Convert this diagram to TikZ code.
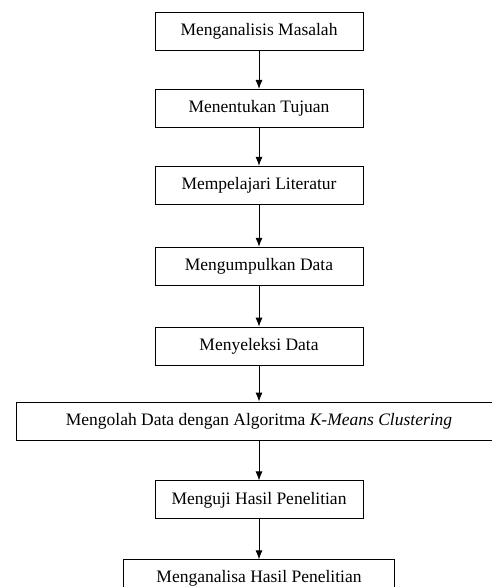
\documentclass[tikz,border=0pt]{standalone}
\usepackage{fontspec}
\setmainfont{Liberation Serif}
\usetikzlibrary{positioning}
\usetikzlibrary{arrows.meta}

\begin{document}
\begin{tikzpicture}[x=1pt,y=1pt,
	stepnode/.style={rectangle, draw=black, line width=0.9pt, minimum width=208pt, minimum height=38pt, inner sep=0pt, font=\fontsize{17.5}{21}\selectfont},
	flow/.style={line width=0.9pt, -{Latex[length=9pt,width=7pt]}}]
	\useasboundingbox (0,0) rectangle (492,-587);
	\node[stepnode] (masalah) at (259,-31.5) {Menganalisis Masalah};
	\node[stepnode] (tujuan) [below = 38pt of masalah] {Menentukan Tujuan};
	\node[stepnode] (literatur) [below = 38pt of tujuan] {Mempelajari Literatur};
	\node[stepnode] (kumpul) [below = 42pt of literatur] {Mengumpulkan Data};
	\node[stepnode] (seleksi) [below = 41pt of kumpul] {Menyeleksi Data};
	\node[stepnode, minimum width=486pt] (olah) [below = 36pt of seleksi] {Mengolah Data dengan Algoritma \textit{K-Means Clustering}};
	\node[stepnode] (uji) [below = 40pt of olah] {Menguji Hasil Penelitian};
	\node[stepnode, minimum width=271pt] (analisa) [below = 40pt of uji] {Menganalisa Hasil Penelitian};
	\draw[flow] (masalah.south) -- (tujuan.north);
	\draw[flow] (tujuan.south) -- (literatur.north);
	\draw[flow] (literatur.south) -- (kumpul.north);
	\draw[flow] (kumpul.south) -- (seleksi.north);
	\draw[flow] (seleksi.south) -- (olah.north);
	\draw[flow] (olah.south) -- (uji.north);
	\draw[flow] (uji.south) -- (analisa.north);
\end{tikzpicture}
\end{document}
